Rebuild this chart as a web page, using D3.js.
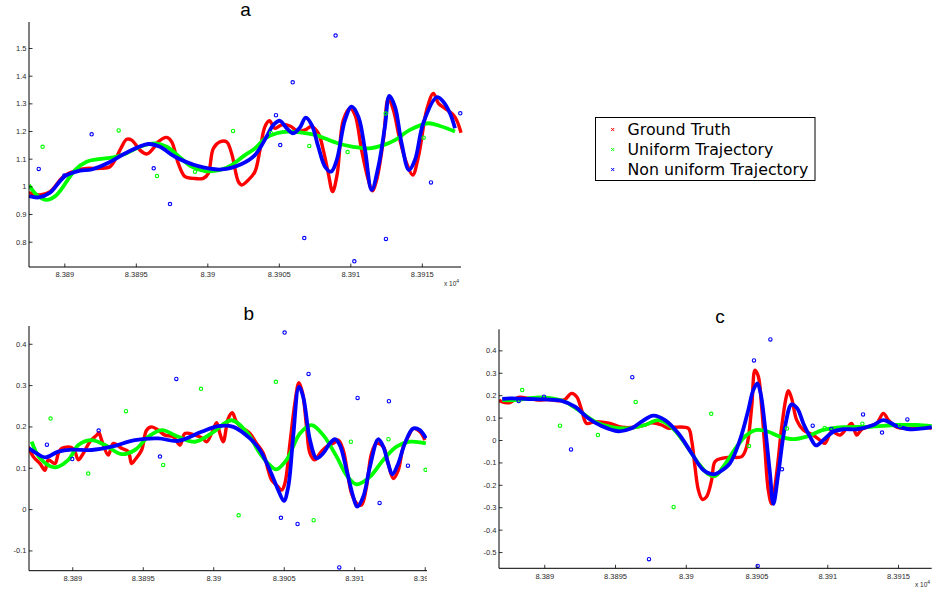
<!DOCTYPE html>
<html>
<head>
<meta charset="utf-8">
<script src="https://cdn.jsdelivr.net/npm/d3@7"></script>
<style>
  html, body { margin: 0; padding: 0; background: #fff; }
  svg { display: block; }
  .tick text { font-family: "Liberation Sans", Arial, Helvetica, sans-serif; font-size: 7.5px; fill: #2a2a2a; }
</style>
</head>
<body>
<svg id="chart" width="936" height="592"></svg>
<script>
// ---------- shared axis ticks ----------
const xTicks = [83890, 83895, 83900, 83905, 83910, 83915];
const xTickLabels = ["8.389", "8.3895", "8.39", "8.3905", "8.391", "8.3915"];
const yTicksA = [0.8, 0.9, 1.0, 1.1, 1.2, 1.3, 1.4, 1.5];
const yTickLabelsA = ["0.8", "0.9", "1", "1.1", "1.2", "1.3", "1.4", "1.5"];
const yTicksB = [-0.1, 0, 0.1, 0.2, 0.3, 0.4];
const yTickLabelsB = ["-0.1", "0", "0.1", "0.2", "0.3", "0.4"];
const yTicksC = [-0.5, -0.4, -0.3, -0.2, -0.1, 0, 0.1, 0.2, 0.3, 0.4];
const yTickLabelsC = ["-0.5", "-0.4", "-0.3", "-0.2", "-0.1", "0", "0.1", "0.2", "0.3", "0.4"];

const seriesNames = ["Ground Truth", "Uniform Trajectory", "Non uniform Trajectory"];

// ---------- panel a ----------
const aTruthX = [83887.53,83888.30,83889.00,83889.93,83890.86,83891.56,83892.49,83893.19,83893.66,83894.01,83894.36,83894.71,83895.29,83895.76,83896.22,83896.57,83897.16,83897.51,83897.97,83898.44,83899.02,83899.72,83900.07,83900.42,83900.89,83901.35,83901.70,83902.17,83902.40,83902.87,83903.33,83903.68,83904.03,83904.34,83904.73,83905.20,83905.78,83906.36,83906.83,83907.30,83907.76,83908.11,83908.46,83908.76,83909.09,83909.51,83909.98,83910.33,83910.79,83911.26,83911.54,83911.84,83912.31,83912.66,83913.01,83913.47,83913.94,83914.36,83914.76,83915.34,83915.81,83916.16,83916.62,83917.20,83917.48,83917.74];
const aTruthY = [0.977,0.969,0.981,1.035,1.059,1.065,1.065,1.071,1.107,1.143,1.170,1.167,1.131,1.117,1.137,1.161,1.177,1.161,1.083,1.035,1.029,1.029,1.047,1.137,1.161,1.161,1.119,1.017,1.005,1.023,1.053,1.131,1.216,1.237,1.210,1.222,1.218,1.198,1.204,1.216,1.192,1.131,1.047,0.981,1.047,1.240,1.282,1.258,1.131,1.023,0.984,1.023,1.167,1.318,1.276,1.167,1.083,1.041,1.107,1.276,1.336,1.300,1.282,1.258,1.234,1.194];
const aUniformX = [83887.53,83888.07,83888.76,83889.46,83890.75,83891.56,83892.38,83893.43,83894.24,83895.29,83896.34,83897.16,83897.97,83898.90,83899.84,83900.89,83901.70,83902.63,83903.33,83904.03,83904.85,83905.66,83906.60,83907.53,83909.16,83910.21,83911.26,83912.31,83913.12,83914.17,83915.45,83916.27,83917.32];
const aUniformY = [1.005,0.969,0.951,0.969,1.059,1.089,1.098,1.105,1.117,1.143,1.155,1.143,1.110,1.071,1.055,1.059,1.077,1.113,1.137,1.173,1.192,1.198,1.194,1.186,1.155,1.143,1.137,1.149,1.167,1.204,1.228,1.218,1.198];
const aNonUniformX = [83887.53,83888.18,83889.00,83890.05,83891.10,83891.91,83893.19,83894.24,83895.87,83896.69,83897.74,83899.37,83901.00,83902.40,83903.33,83904.15,83904.62,83905.08,83905.55,83906.01,83906.48,83906.88,83907.30,83907.76,83908.23,83908.65,83909.04,83909.63,83910.09,83910.56,83911.03,83911.49,83911.96,83912.42,83912.73,83913.12,83913.59,83914.10,83914.52,83915.10,83916.04,83916.50,83916.97,83917.32];
const aNonUniformY = [0.965,0.960,0.977,1.037,1.057,1.061,1.088,1.119,1.153,1.143,1.107,1.073,1.061,1.081,1.113,1.180,1.222,1.237,1.210,1.192,1.213,1.248,1.222,1.143,1.071,1.053,1.093,1.240,1.288,1.252,1.131,0.987,1.071,1.216,1.327,1.288,1.155,1.059,1.095,1.228,1.322,1.306,1.264,1.210];
const aUniformSampleX = [83888.48,83893.80,83896.48,83899.14,83901.80,83904.45,83907.13,83909.81,83912.47,83915.13];
const aUniformSampleY = [1.143,1.202,1.037,1.053,1.200,1.192,1.146,1.124,1.263,1.176];
const aNonUniformSampleX = [83888.21,83890.00,83891.91,83896.25,83897.39,83904.80,83905.10,83905.97,83906.78,83908.97,83910.28,83912.49,83915.64,83917.69];
const aNonUniformSampleY = [1.063,1.039,1.188,1.065,0.936,1.257,1.149,1.376,0.813,1.545,0.729,0.810,1.014,1.264];

// ---------- panel b ----------
const bTruthX = [83886.88,83887.23,83887.71,83888.06,83888.30,83888.77,83889.01,83889.24,83889.95,83890.19,83890.43,83890.78,83891.25,83891.73,83891.89,83892.08,83892.55,83892.91,83893.50,83893.97,83894.21,83894.44,83894.92,83895.27,83895.63,83896.10,83896.57,83897.16,83897.64,83897.99,83898.70,83899.17,83899.53,83899.88,83900.24,83900.47,83900.71,83901.06,83901.35,83901.65,83902.13,83902.60,83903.07,83903.55,83903.90,83904.14,83904.49,83904.85,83905.08,83905.44,83905.79,83906.08,83906.34,83906.62,83906.86,83907.21,83907.57,83908.04,83908.51,83908.87,83909.22,83909.57,83909.81,83910.17,83910.52,83910.87,83911.23,83911.58,83912.06,83912.41,83912.77,83913.12,83913.48,83913.83,83914.18,83914.66,83915.01];
const bTruthY = [0.151,0.127,0.110,0.094,0.119,0.110,0.135,0.147,0.149,0.139,0.119,0.135,0.163,0.179,0.185,0.167,0.131,0.159,0.147,0.139,0.110,0.119,0.143,0.191,0.199,0.191,0.179,0.175,0.155,0.183,0.179,0.173,0.163,0.183,0.209,0.183,0.163,0.219,0.233,0.211,0.195,0.183,0.159,0.135,0.094,0.070,0.058,0.046,0.062,0.159,0.256,0.306,0.280,0.199,0.135,0.119,0.135,0.151,0.159,0.167,0.143,0.078,0.038,0.014,0.010,0.054,0.135,0.159,0.151,0.110,0.074,0.094,0.151,0.175,0.195,0.187,0.167];
const bUniformX = [83887.12,83887.71,83888.77,83889.72,83890.43,83891.37,83892.32,83893.50,83894.44,83895.39,83896.34,83897.52,83898.70,83899.88,83901.30,83902.36,83903.31,83904.02,83904.49,83905.20,83906.15,83906.97,83907.80,83908.75,83909.46,83910.17,83911.11,83912.06,83913.00,83913.95,83915.08];
const bUniformY = [0.163,0.123,0.101,0.119,0.155,0.167,0.155,0.133,0.143,0.175,0.191,0.175,0.163,0.183,0.215,0.187,0.135,0.106,0.096,0.119,0.183,0.203,0.179,0.127,0.082,0.060,0.078,0.119,0.151,0.163,0.159];
const bNonUniformX = [83886.93,83887.47,83888.06,83889.01,83889.95,83891.37,83892.79,83894.44,83896.10,83897.52,83899.17,83900.35,83901.42,83902.60,83903.31,83904.02,83904.61,83905.01,83905.32,83905.67,83906.08,83906.38,83906.86,83907.33,83907.80,83908.27,83908.63,83908.98,83909.46,83909.93,83910.21,83910.64,83911.11,83911.70,83912.06,83912.41,83912.70,83913.12,83913.59,83914.18,83914.66,83915.08];
const bNonUniformY = [0.147,0.135,0.125,0.139,0.144,0.143,0.151,0.167,0.171,0.165,0.187,0.201,0.199,0.171,0.143,0.094,0.046,0.020,0.054,0.175,0.296,0.272,0.167,0.123,0.135,0.159,0.169,0.155,0.094,0.030,0.006,0.030,0.102,0.169,0.151,0.110,0.084,0.110,0.159,0.195,0.191,0.171];
const bUniformSampleX = [83888.46,83891.13,83893.81,83896.45,83899.13,83901.80,83904.44,83907.12,83909.76,83912.43,83915.06];
const bUniformSampleY = [0.219,0.086,0.237,0.107,0.291,-0.015,0.308,-0.027,0.163,0.169,0.095];
const bNonUniformSampleX = [83888.20,83890.00,83891.87,83896.22,83897.38,83904.80,83905.06,83905.98,83906.76,83908.94,83910.24,83911.80,83912.46,83913.81];
const bNonUniformSampleY = [0.156,0.121,0.190,0.127,0.315,-0.021,0.427,-0.036,0.327,-0.141,0.269,0.015,0.261,0.105];

// ---------- panel c ----------
const cTruthX = [83886.80,83886.98,83887.57,83888.16,83888.87,83889.58,83890.28,83890.99,83891.46,83891.93,83892.29,83892.64,83892.99,83893.58,83894.64,83895.47,83896.41,83897.12,83897.59,83898.29,83898.77,83899.24,83900.18,83900.41,83900.65,83900.89,83901.17,83901.47,83901.83,83902.06,83902.54,83903.12,83903.95,83904.30,83904.66,83904.89,83905.13,83905.36,83905.60,83905.83,83906.07,83906.42,83906.78,83907.08,83907.25,83907.48,83907.84,83908.31,83909.01,83909.60,83909.84,83910.31,83910.90,83911.37,83911.72,83912.08,83912.43,83912.90,83913.49,83913.96,83914.32,83914.91,83915.85,83916.79,83917.38];
const cTruthY = [0.178,0.171,0.167,0.190,0.186,0.178,0.181,0.175,0.181,0.208,0.193,0.134,0.074,0.082,0.074,0.057,0.057,0.067,0.077,0.067,0.052,0.057,0.052,0.000,-0.119,-0.223,-0.265,-0.253,-0.178,-0.097,-0.082,-0.077,-0.074,-0.030,0.149,0.312,0.283,0.149,-0.045,-0.223,-0.285,-0.149,0.059,0.186,0.220,0.186,0.089,0.045,0.022,-0.007,-0.015,0.037,0.022,0.052,0.074,0.022,0.048,0.059,0.074,0.119,0.089,0.057,0.052,0.057,0.052];
const cUniformX = [83887.03,83887.93,83889.58,83890.52,83891.46,83892.40,83893.58,83894.76,83895.94,83897.12,83898.06,83899.00,83899.94,83900.89,83901.59,83902.06,83902.65,83903.60,83904.30,83905.01,83905.83,83906.66,83907.60,83908.54,83909.72,83911.14,83913.02,83914.91,83916.32,83917.38];
const cUniformY = [0.178,0.178,0.190,0.186,0.171,0.134,0.082,0.057,0.052,0.067,0.089,0.057,-0.015,-0.104,-0.152,-0.161,-0.119,-0.030,0.022,0.045,0.037,0.015,0.004,0.015,0.045,0.057,0.059,0.067,0.067,0.062];
const cNonUniformX = [83887.03,83887.69,83888.87,83890.05,83891.23,83892.17,83893.11,83894.05,83895.23,83896.17,83896.88,83897.70,83898.53,83899.47,83900.41,83901.24,83901.95,83902.42,83903.12,83903.83,83904.42,83904.77,83905.06,83905.29,83905.60,83905.95,83906.19,83906.54,83907.01,83907.48,83907.88,83908.31,83908.78,83909.20,83909.72,83910.43,83911.14,83912.08,83913.26,83913.96,83914.91,83915.85,83917.38];
const cNonUniformY = [0.184,0.186,0.183,0.181,0.175,0.149,0.097,0.062,0.039,0.052,0.082,0.109,0.089,0.030,-0.059,-0.134,-0.153,-0.141,-0.104,0.000,0.134,0.223,0.253,0.208,0.059,-0.149,-0.285,-0.149,0.059,0.159,0.141,0.074,0.015,-0.024,0.000,0.037,0.048,0.048,0.067,0.089,0.062,0.048,0.057];
const cUniformSampleX = [83888.44,83891.11,83893.79,83896.46,83899.14,83901.80,83904.47,83907.15,83909.82,83912.48,83915.14];
const cUniformSampleY = [0.223,0.064,0.022,0.170,-0.299,0.117,-0.027,0.051,0.054,0.073,0.067];
const cNonUniformSampleX = [83888.19,83889.98,83891.89,83896.22,83897.40,83904.82,83905.08,83905.98,83906.80,83908.97,83910.29,83912.53,83913.87,83915.66];
const cNonUniformSampleY = [0.174,0.193,-0.042,0.280,-0.532,0.355,-0.562,0.449,-0.131,0.064,0.049,0.114,0.033,0.092];

// ---------- drawing ----------
const colors = { truth: "#ff0000", uniform: "#00ff00", nonuniform: "#0000ff" };
const svg = d3.select("#chart");
const zip = (xs, ys) => xs.map((x, i) => [x, ys[i]]);

function drawPanel(cfg) {
  const g = svg.append("g");
  if (cfg.clipRight) {
    const id = "clip-" + cfg.title;
    svg.append("clipPath").attr("id", id)
      .append("rect").attr("x", 0).attr("y", 0).attr("width", cfg.clipRight).attr("height", 592);
    g.attr("clip-path", `url(#${id})`);
  }
  const x = d3.scaleLinear().domain(cfg.xDomain).range([cfg.left, cfg.right]);
  const y = d3.scaleLinear().domain(cfg.yDomain).range([cfg.bottom, cfg.top]);

  const plot = g.append("g");
  plot.append("clipPath").attr("id", "plot-" + cfg.title)
    .append("rect").attr("x", cfg.left).attr("y", cfg.top - 4)
    .attr("width", cfg.right - cfg.left + 2).attr("height", cfg.bottom - cfg.top + 8);

  const line = d3.line().x(d => x(d[0])).y(d => y(d[1])).curve(d3.curveCatmullRom.alpha(0.5));
  const curves = plot.append("g").attr("clip-path", `url(#plot-${cfg.title})`);
  curves.append("path").datum(zip(cfg.truth[0], cfg.truth[1]))
    .attr("d", line).attr("fill", "none").attr("stroke", colors.truth)
    .attr("stroke-width", 3.4).attr("stroke-linejoin", "round");
  curves.append("path").datum(zip(cfg.uniform[0], cfg.uniform[1]))
    .attr("d", line).attr("fill", "none").attr("stroke", colors.uniform)
    .attr("stroke-width", 3.8).attr("stroke-linejoin", "round");
  curves.append("path").datum(zip(cfg.nonuniform[0], cfg.nonuniform[1]))
    .attr("d", line).attr("fill", "none").attr("stroke", colors.nonuniform)
    .attr("stroke-width", 3.8).attr("stroke-linejoin", "round");

  // sample positions
  plot.append("g").selectAll("circle").data(zip(cfg.uniformSamples[0], cfg.uniformSamples[1]))
    .join("circle").attr("cx", d => x(d[0])).attr("cy", d => y(d[1])).attr("r", 1.7)
    .attr("fill", "none").attr("stroke", colors.uniform).attr("stroke-width", 1.1);
  plot.append("g").selectAll("circle").data(zip(cfg.nonuniformSamples[0], cfg.nonuniformSamples[1]))
    .join("circle").attr("cx", d => x(d[0])).attr("cy", d => y(d[1])).attr("r", 1.7)
    .attr("fill", "none").attr("stroke", colors.nonuniform).attr("stroke-width", 1.1);

  // axes (left and bottom only, ticks pointing inward)
  const xAxis = d3.axisBottom(x).tickValues(xTicks)
    .tickFormat((d, i) => xTickLabels[i]).tickSizeInner(-3.5).tickSizeOuter(0).tickPadding(5);
  const gx = g.append("g").attr("transform", `translate(0,${cfg.bottom})`).call(xAxis);
  const yAxis = d3.axisLeft(y).tickValues(cfg.yTicks)
    .tickFormat((d, i) => cfg.yTickLabels[i]).tickSizeInner(-3.5).tickSizeOuter(0).tickPadding(2.5);
  const gy = g.append("g").attr("transform", `translate(${cfg.left},0)`).call(yAxis);
  [gx, gy].forEach(a => {
    a.select(".domain").attr("stroke", "#000").attr("stroke-width", 1);
    a.selectAll(".tick line").attr("stroke", "#000").attr("stroke-width", 0.8);
  });
  gx.select(".domain").attr("d", `M${cfg.left},0H${cfg.right}`);
  gy.select(".domain").attr("d", `M0,${cfg.bottom}V${cfg.top}`);

  // title
  g.append("text").attr("x", cfg.titleX).attr("y", cfg.titleY)
    .attr("text-anchor", "middle")
    .style("font-family", "'Liberation Sans', Arial, Helvetica, sans-serif")
    .style("font-size", "19px").text(cfg.title);

  // exponent note for the x axis
  if (cfg.expX) {
    const t = g.append("text").attr("x", cfg.expX).attr("y", cfg.expY)
      .style("font-family", "'Liberation Sans', Arial, sans-serif")
      .style("font-size", "6.5px").attr("fill", "#2a2a2a");
    t.append("tspan").text("x 10");
    t.append("tspan").attr("dy", -3).style("font-size", "5px").text("4");
  }
}

drawPanel({
  title: "a", titleX: 245.5, titleY: 16,
  left: 29, right: 461, top: 22, bottom: 267,
  xDomain: [83887.53, 83917.74], yDomain: [0.7085, 1.594],
  yTicks: yTicksA, yTickLabels: yTickLabelsA,
  truth: [aTruthX, aTruthY], uniform: [aUniformX, aUniformY], nonuniform: [aNonUniformX, aNonUniformY],
  uniformSamples: [aUniformSampleX, aUniformSampleY], nonuniformSamples: [aNonUniformSampleX, aNonUniformSampleY],
  expX: 444, expY: 286
});

drawPanel({
  title: "b", titleX: 248.7, titleY: 320,
  left: 29, right: 467, top: 326, bottom: 570.7, clipRight: 427,
  xDomain: [83886.93, 83918.0], yDomain: [-0.149, 0.443],
  yTicks: yTicksB, yTickLabels: yTickLabelsB,
  truth: [bTruthX, bTruthY], uniform: [bUniformX, bUniformY], nonuniform: [bNonUniformX, bNonUniformY],
  uniformSamples: [bUniformSampleX, bUniformSampleY], nonuniformSamples: [bNonUniformSampleX, bNonUniformSampleY]
});

drawPanel({
  title: "c", titleX: 720, titleY: 323,
  left: 499, right: 931.7, top: 329.3, bottom: 568.3,
  xDomain: [83886.80, 83917.38], yDomain: [-0.5725, 0.494],
  yTicks: yTicksC, yTickLabels: yTickLabelsC,
  truth: [cTruthX, cTruthY], uniform: [cUniformX, cUniformY], nonuniform: [cNonUniformX, cNonUniformY],
  uniformSamples: [cUniformSampleX, cUniformSampleY], nonuniformSamples: [cNonUniformSampleX, cNonUniformSampleY],
  expX: 915, expY: 587
});

// ---------- legend ----------
const legend = svg.append("g").attr("transform", "translate(595.5,117.5)");
legend.append("rect").attr("width", 219.5).attr("height", 63)
  .attr("fill", "#fff").attr("stroke", "#000").attr("stroke-width", 1);
const legendColors = [colors.truth, colors.uniform, colors.nonuniform];
seriesNames.forEach((name, i) => {
  const row = legend.append("g").attr("transform", `translate(0,${12 + i * 20})`);
  const mx = 17.2, s = 1.5;
  row.append("path").attr("d", `M${mx - s},${-s}L${mx + s},${s}M${mx - s},${s}L${mx + s},${-s}`)
    .attr("stroke", legendColors[i]).attr("stroke-width", 1);
  row.append("text").attr("x", 32).attr("y", 5.6)
    .style("font-family", "'DejaVu Sans', sans-serif").style("font-size", "15.8px")
    .attr("fill", "#000").text(name);
});
</script>
</body>
</html>
